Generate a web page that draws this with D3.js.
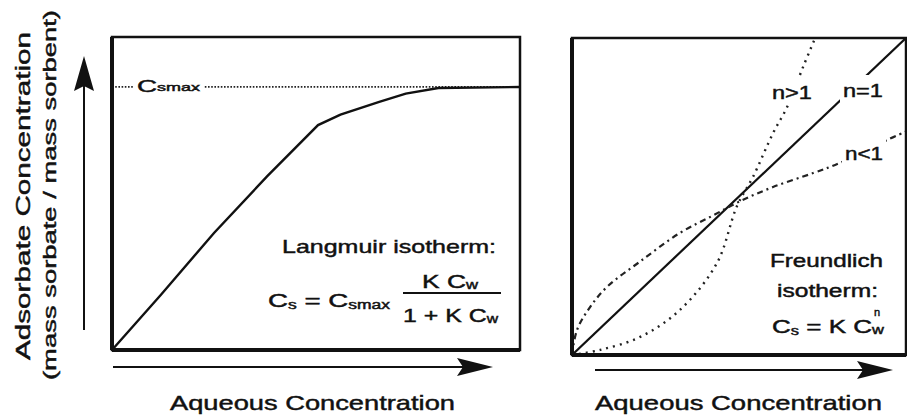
<!DOCTYPE html>
<html>
<head>
<meta charset="utf-8">
<script src="https://cdn.jsdelivr.net/npm/d3@7"></script>
<style>
  body { margin: 0; background: #fff; }
  text { font-family: "Liberation Sans", Arial, Helvetica, sans-serif; fill: #111; stroke: #111; stroke-width: 0.45; }
</style>
</head>
<body>
<svg></svg>
<script>
// Langmuir isotherm (left panel)
var langX = [0, 1.2, 2.5, 3.8, 5.05, 5.6, 6.55, 7.2, 8.0, 10]
var langY = [0, 2.1, 4.45, 6.6, 8.55, 8.95, 9.43, 9.75, 9.96, 10]
var csMax = 10

// Freundlich isotherms (right panel)
var n1X = [0, 10]
var n1Y = [0, 10]
var nGtX = [0, 0.84, 2.04, 3.23, 4.34, 4.94, 5.42, 6.02, 6.44, 6.92, 7.28]
var nGtY = [0, 0.16, 0.57, 1.42, 2.9, 4.7, 5.62, 7.0, 7.82, 9.09, 10]
var nLtX = [0, 0.15, 0.54, 1.05, 2.04, 3.23, 4.22, 5.03, 6.02, 7.22, 8.02, 9.43, 10]
var nLtY = [0, 0.79, 1.51, 2.15, 2.95, 3.85, 4.4, 4.85, 5.3, 5.74, 6.06, 6.78, 7.05]

var xTitle = "Aqueous Concentration"
var yTitle = ["Adsorbate Concentration", "(mass sorbate / mass sorbent)"]

var width = 907
var height = 420

var svg = d3.select("svg")
    .attr("width", width)
    .attr("height", height)

var zip = (xs, ys) => xs.map((x, i) => [x, ys[i]])

/* Scales */
var xL = d3.scaleLinear().domain([0, 10]).range([112, 520])
var yL = d3.scaleLinear().domain([0, 11.9]).range([350, 37])
var xR = d3.scaleLinear().domain([0, 10]).range([572, 906])
var yR = d3.scaleLinear().domain([0, 10]).range([355, 38])

/* Arrow heads */
function arrowHead(g, x, y, dir) {
    // dir: "right" or "up"
    var p = dir == "right"
        ? [[x, y], [x - 36, y - 9], [x - 30, y], [x - 36, y + 9]]
        : [[x, y], [x - 10, y + 35], [x, y + 30], [x + 10, y + 35]]
    g.append("path")
        .attr("d", "M" + p.join("L") + "Z")
        .attr("fill", "#111")
}

/* ---------- Left panel ---------- */
var left = svg.append("g")

// Csmax dotted reference
left.append("line")
    .attr("x1", xL(0)).attr("x2", xL(10))
    .attr("y1", yL(csMax)).attr("y2", yL(csMax))
    .attr("stroke", "#222").attr("stroke-width", 1.8)
    .attr("stroke-dasharray", "1.6,1.6")

left.append("rect")
    .attr("x", 134).attr("y", yL(csMax) - 12)
    .attr("width", 70).attr("height", 20)
    .attr("fill", "#fff")

var cs = left.append("text")
    .attr("x", 137).attr("y", yL(csMax) + 5)
    .attr("font-size", 17)
    .attr("textLength", 63).attr("lengthAdjust", "spacingAndGlyphs")
cs.append("tspan").text("C")
cs.append("tspan").attr("font-size", 11).attr("dy", -1).text("smax")

// Langmuir curve
left.append("path")
    .datum(zip(langX, langY))
    .attr("fill", "none")
    .attr("stroke", "#111")
    .attr("stroke-width", 2.4)
    .attr("d", d3.line().x(d => xL(d[0])).y(d => yL(d[1])))

// frame
left.append("rect")
    .attr("x", xL(0)).attr("y", yL(11.9))
    .attr("width", xL(10) - xL(0)).attr("height", yL(0) - yL(11.9))
    .attr("fill", "none").attr("stroke", "#111").attr("stroke-width", 2.5)
left.append("line")
    .attr("x1", xL(0)).attr("x2", xL(0)).attr("y1", yL(11.9)).attr("y2", yL(0))
    .attr("stroke", "#111").attr("stroke-width", 4)
left.append("line")
    .attr("x1", xL(0)).attr("x2", xL(10)).attr("y1", yL(0)).attr("y2", yL(0))
    .attr("stroke", "#111").attr("stroke-width", 4)

// Langmuir annotation
left.append("text")
    .attr("x", 282).attr("y", 253)
    .attr("font-size", 19)
    .attr("textLength", 214).attr("lengthAdjust", "spacingAndGlyphs")
    .text("Langmuir isotherm:")

var eq = left.append("text")
    .attr("x", 268).attr("y", 307)
    .attr("font-size", 19)
    .attr("textLength", 122).attr("lengthAdjust", "spacingAndGlyphs")
eq.append("tspan").text("C")
eq.append("tspan").attr("font-size", 12).attr("dy", 2).text("s")
eq.append("tspan").attr("dy", -2).text(" = C")
eq.append("tspan").attr("font-size", 12).attr("dy", 2).text("smax")

var num = left.append("text")
    .attr("x", 422).attr("y", 288)
    .attr("font-size", 19)
    .attr("textLength", 56).attr("lengthAdjust", "spacingAndGlyphs")
num.append("tspan").text("K C")
num.append("tspan").attr("font-size", 12).attr("dy", 1).text("w")

left.append("line")
    .attr("x1", 403).attr("x2", 501).attr("y1", 293).attr("y2", 293)
    .attr("stroke", "#111").attr("stroke-width", 2)

var den = left.append("text")
    .attr("x", 403).attr("y", 322)
    .attr("font-size", 19)
    .attr("textLength", 95).attr("lengthAdjust", "spacingAndGlyphs")
den.append("tspan").text("1 + K C")
den.append("tspan").attr("font-size", 12).attr("dy", 1).text("w")

// axis arrows
left.append("line")
    .attr("x1", 84).attr("x2", 84).attr("y1", 330).attr("y2", 80)
    .attr("stroke", "#111").attr("stroke-width", 2)
arrowHead(left, 84, 56, "up")

left.append("line")
    .attr("x1", 113).attr("x2", 470).attr("y1", 367).attr("y2", 367)
    .attr("stroke", "#111").attr("stroke-width", 2)
arrowHead(left, 493, 367, "right")

left.append("text")
    .attr("x", 170).attr("y", 410)
    .attr("font-size", 21)
    .attr("textLength", 285).attr("lengthAdjust", "spacingAndGlyphs")
    .text(xTitle)

// y title (two lines, rotated)
svg.append("text")
    .attr("transform", "translate(30,196) rotate(-90)")
    .attr("text-anchor", "middle")
    .attr("font-size", 20)
    .attr("textLength", 328).attr("lengthAdjust", "spacingAndGlyphs")
    .text(yTitle[0])
svg.append("text")
    .attr("transform", "translate(56,195) rotate(-90)")
    .attr("text-anchor", "middle")
    .attr("font-size", 19)
    .attr("textLength", 370).attr("lengthAdjust", "spacingAndGlyphs")
    .text(yTitle[1])

/* ---------- Right panel ---------- */
var right = svg.append("g")

right.append("clipPath").attr("id", "clipR")
    .append("rect")
    .attr("x", xR(0)).attr("y", yR(10))
    .attr("width", xR(10) - xR(0)).attr("height", yR(0) - yR(10))

var line = d3.line().x(d => xR(d[0])).y(d => yR(d[1])).curve(d3.curveCatmullRom.alpha(0.5))
var curves = right.append("g").attr("clip-path", "url(#clipR)")

curves.append("path")
    .datum(zip(n1X, n1Y))
    .attr("fill", "none").attr("stroke", "#111").attr("stroke-width", 2.2)
    .attr("d", line)

curves.append("path")
    .datum(zip(nGtX, nGtY))
    .attr("fill", "none").attr("stroke", "#222").attr("stroke-width", 2.4)
    .attr("stroke-dasharray", "2,5")
    .attr("d", line)

curves.append("path")
    .datum(zip(nLtX, nLtY))
    .attr("fill", "none").attr("stroke", "#222").attr("stroke-width", 2.2)
    .attr("stroke-dasharray", "6,4,2,4")
    .attr("d", line)

// label knock-outs
var labels = [
    { t: "n>1", x: 772, y: 99, w: 40 },
    { t: "n=1", x: 843, y: 97, w: 40 },
    { t: "n<1", x: 845, y: 160, w: 38 }
]
right.selectAll("rect.ko")
    .data(labels)
    .enter()
        .append("rect")
            .attr("class", "ko")
            .attr("x", d => d.x - 3)
            .attr("y", d => d.y - 22)
            .attr("width", d => d.w + 6)
            .attr("height", d => d.t == "n=1" ? 30 : 26)
            .attr("fill", "#fff")
right.selectAll("text.lab")
    .data(labels)
    .enter()
        .append("text")
            .attr("class", "lab")
            .attr("x", d => d.x)
            .attr("y", d => d.y)
            .attr("font-size", 18)
            .attr("textLength", d => d.w).attr("lengthAdjust", "spacingAndGlyphs")
            .text(d => d.t)

// frame
right.append("rect")
    .attr("x", xR(0)).attr("y", yR(10))
    .attr("width", xR(10) - xR(0)).attr("height", yR(0) - yR(10))
    .attr("fill", "none").attr("stroke", "#111").attr("stroke-width", 2.5)
right.append("line")
    .attr("x1", xR(0)).attr("x2", xR(0)).attr("y1", yR(10)).attr("y2", yR(0))
    .attr("stroke", "#111").attr("stroke-width", 4)
right.append("line")
    .attr("x1", xR(0)).attr("x2", xR(10)).attr("y1", yR(0)).attr("y2", yR(0))
    .attr("stroke", "#111").attr("stroke-width", 4)

// Freundlich annotation
right.append("text")
    .attr("x", 770).attr("y", 267)
    .attr("font-size", 18)
    .attr("textLength", 113).attr("lengthAdjust", "spacingAndGlyphs")
    .text("Freundlich")
right.append("text")
    .attr("x", 777).attr("y", 297)
    .attr("font-size", 18)
    .attr("textLength", 101).attr("lengthAdjust", "spacingAndGlyphs")
    .text("isotherm:")
var fr = right.append("text")
    .attr("x", 772).attr("y", 333)
    .attr("font-size", 19)
    .attr("textLength", 112).attr("lengthAdjust", "spacingAndGlyphs")
fr.append("tspan").text("C")
fr.append("tspan").attr("font-size", 12).attr("dy", 2).text("s")
fr.append("tspan").attr("dy", -2).text(" = K C")
fr.append("tspan").attr("font-size", 12).attr("dy", 1).text("w")
right.append("text")
    .attr("x", 874).attr("y", 316)
    .attr("font-size", 11)
    .text("n")

// x arrow
right.append("line")
    .attr("x1", 595).attr("x2", 870).attr("y1", 370).attr("y2", 370)
    .attr("stroke", "#111").attr("stroke-width", 2)
arrowHead(right, 893, 370, "right")

right.append("text")
    .attr("x", 595).attr("y", 410)
    .attr("font-size", 21)
    .attr("textLength", 287).attr("lengthAdjust", "spacingAndGlyphs")
    .text(xTitle)
</script>
</body>
</html>
